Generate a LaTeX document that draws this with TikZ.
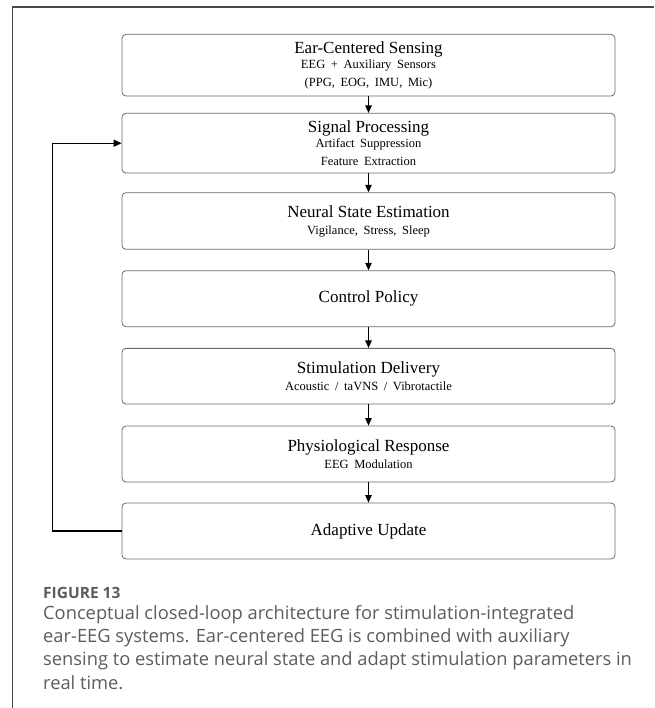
\documentclass[tikz,border=0pt]{standalone}
\usepackage{fontspec}
\setmainfont{Liberation Serif}
\newfontfamily\captionfont{Open Sans}
\usetikzlibrary{arrows.meta}

\definecolor{framegray}{HTML}{4A4A4A}
\definecolor{boxgray}{HTML}{6A6A6A}
\definecolor{captiongray}{HTML}{5C5C5C}

% smaller type for the detail lines inside a stage box
\newcommand\stagedetail{\fontsize{12.5}{18}\selectfont\spaceskip=0.45em plus 0.1em\relax}

\begin{document}
\begin{tikzpicture}[x=1pt,y=-1pt,
  stagebox/.style={draw=boxgray, line width=0.8pt, rounded corners=4pt,
    minimum width=493pt, inner sep=0pt, align=center,
    font=\fontsize{17}{18}\selectfont},
  flow/.style={-{Triangle[length=7.5pt,width=6.5pt]}, line width=1pt, black},
  loop/.style={-{Triangle[length=8pt,width=7pt]}, line width=1.3pt, black},
  captionline/.style={anchor=base west, inner sep=0pt, text=captiongray,
    font=\captionfont\fontsize{18.3}{22}\selectfont},
]
\useasboundingbox (0,0) rectangle (654,708);

% outer figure frame (left and top rules)
\draw[framegray, line width=1.2pt] (12.5,708) -- (12.5,7) -- (654,7);

% processing stages
\node[stagebox, minimum height=61.7pt] (sense) at (368.5,65.2)
  {Ear-Centered Sensing\\[-3pt]\stagedetail EEG + Auxiliary Sensors\\\stagedetail (PPG, EOG, IMU, Mic)};
\node[stagebox, minimum height=59.7pt] (proc) at (368.5,143.2)
  {Signal Processing\\[-3pt]\stagedetail Artifact Suppression\\\stagedetail Feature Extraction};
\node[stagebox, minimum height=56.6pt] (state) at (368.5,221)
  {Neural State Estimation\\[-1pt]\stagedetail Vigilance, Stress, Sleep};
\node[stagebox, minimum height=56pt] (policy) at (368.5,298.7)
  {Control Policy};
\node[stagebox, minimum height=55.7pt] (stim) at (368.5,376.2)
  {Stimulation Delivery\\[-1pt]\stagedetail Acoustic / taVNS / Vibrotactile};
\node[stagebox, minimum height=56pt] (resp) at (368.5,454)
  {Physiological Response\\[-1pt]\stagedetail EEG Modulation};
\node[stagebox, minimum height=56pt] (adapt) at (368.5,531)
  {Adaptive Update};

% forward chain
\draw[flow] (sense) -- (proc);
\draw[flow] (proc) -- (state);
\draw[flow] (state) -- (policy);
\draw[flow] (policy) -- (stim);
\draw[flow] (stim) -- (resp);
\draw[flow] (resp) -- (adapt);

% feedback from the adaptive update back into signal processing
\coordinate (loopx) at (52.5,0);
\draw[loop] (adapt.west) -- (adapt.west -| loopx) |- (proc.west);

% caption
\node[anchor=base west, inner sep=0pt, text=captiongray,
  font=\captionfont\bfseries\fontsize{15.5}{18}\selectfont] (figlabel) at (43,598) {FIGURE 13};
\node[captionline] (cap1) at (43,619.3) {Conceptual closed-loop architecture for stimulation-integrated};
\node[captionline] (cap2) at (43,642.6) {ear-EEG systems. Ear-centered EEG is combined with auxiliary};
\node[captionline] (cap3) at (43,665.9) {sensing to estimate neural state and adapt stimulation parameters in};
\node[captionline] (cap4) at (43,689.2) {real time.};
\end{tikzpicture}
\end{document}
